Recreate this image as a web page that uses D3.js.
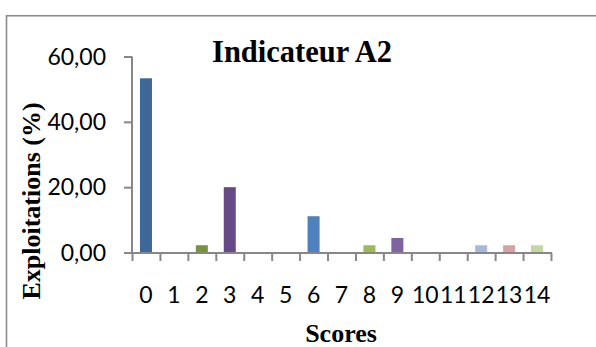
<!DOCTYPE html>
<html>
<head>
<meta charset="utf-8">
<script src="https://cdn.jsdelivr.net/npm/d3@7"></script>
<style>
  html, body { margin: 0; padding: 0; background: #fff; }
  svg { display: block; }
</style>
</head>
<body>
<svg id="chart" width="596" height="347"></svg>
<script>
// Scores and share of farms (%) for each score
const scores = ["0","1","2","3","4","5","6","7","8","9","10","11","12","13","14"];
const values = [53.33, 0, 2.22, 20.00, 0, 0, 11.11, 0, 2.22, 4.44, 0, 0, 2.22, 2.22, 2.22];
const yTicks = [0, 20, 40, 60];

const chartTitle = "Indicateur A2";
const xTitle = "Scores";
const yTitle = "Exploitations (%)";

// Point colours: dark, normal and light shades of the office palette
const palette = [
  "#3d6899", "#953735", "#77933c", "#664a86", "#31859c", "#e46c0a",
  "#4f81bd", "#c0504d", "#9bbb59", "#8064a2", "#4bacc6", "#f79646",
  "#a7b9da", "#d9a2a1", "#c4d79f"
];

const svg = d3.select("#chart");
const W = 596, H = 347;
const plotLeft = 132, plotRight = 551, plotTop = 56.5, plotBottom = 252.5;
const axisColor = "#878787";

svg.append("rect").attr("width", W).attr("height", H).attr("fill", "#fff");

// outer frame (runs off the right and bottom edges)
svg.append("rect")
  .attr("x", 6.5).attr("y", 15.75)
  .attr("width", W + 20).attr("height", H + 20)
  .attr("fill", "none")
  .attr("stroke", "#8c8c8c")
  .attr("stroke-width", 1.6);

const x = d3.scaleBand()
  .domain(scores)
  .range([plotLeft, plotRight])
  .paddingInner(0.57)
  .paddingOuter(0.285);

const xEdges = d3.scaleLinear().domain([0, scores.length]).range([plotLeft, plotRight]);

const y = d3.scaleLinear().domain([0, 60]).range([plotBottom, plotTop]);

// bars
svg.append("g")
  .selectAll("rect")
  .data(values)
  .join("rect")
  .attr("x", (d, i) => x(scores[i]))
  .attr("width", x.bandwidth())
  .attr("y", d => y(d))
  .attr("height", d => y(0) - y(d))
  .attr("fill", (d, i) => palette[i]);

const fmt = v => d3.format(".2f")(v).replace(".", ",");

// y axis
const yAxis = svg.append("g")
  .attr("transform", `translate(${plotLeft},0)`)
  .call(d3.axisLeft(y).tickValues(yTicks).tickSize(8).tickPadding(18).tickFormat(fmt));
yAxis.select(".domain").attr("stroke", axisColor).attr("stroke-width", 2)
  .attr("d", `M0,${plotTop}V${plotBottom + 1}`);
yAxis.selectAll(".tick line").attr("stroke", axisColor).attr("stroke-width", 2);
yAxis.selectAll(".tick text")
  .attr("font-family", "Lato, 'Open Sans', sans-serif")
  .attr("font-size", 23)
  .attr("fill", "#000")
  .attr("dy", "0.34em");

// x axis: tick marks on category edges
const xAxis = svg.append("g")
  .attr("transform", `translate(0,${plotBottom + 0.5})`)
  .call(d3.axisBottom(xEdges).tickValues(d3.range(scores.length + 1)).tickSize(8).tickFormat(""));
xAxis.select(".domain").attr("stroke", axisColor).attr("stroke-width", 2)
  .attr("d", `M${plotLeft - 1},0H${plotRight + 1}`);
xAxis.selectAll(".tick line").attr("stroke", axisColor).attr("stroke-width", 2);

// x labels centred on categories
svg.append("g")
  .attr("transform", `translate(0,${plotBottom + 0.5})`)
  .call(d3.axisBottom(x).tickSize(0).tickPadding(0))
  .call(g => g.select(".domain").remove())
  .selectAll(".tick text")
  .attr("font-family", "Lato, 'Open Sans', sans-serif")
  .attr("font-size", 23)
  .attr("fill", "#000")
  .attr("y", 50)
  .attr("dy", 0);

// titles
svg.append("text")
  .attr("x", 302).attr("y", 62)
  .attr("text-anchor", "middle")
  .attr("font-family", "'Liberation Serif', 'Times New Roman', serif")
  .attr("font-weight", "bold")
  .attr("font-size", 30.5)
  .text(chartTitle);

svg.append("text")
  .attr("x", 341).attr("y", 342)
  .attr("text-anchor", "middle")
  .attr("font-family", "'Liberation Serif', 'Times New Roman', serif")
  .attr("font-weight", "bold")
  .attr("font-size", 26)
  .text(xTitle);

svg.append("text")
  .attr("transform", "translate(40,201) rotate(-90)")
  .attr("text-anchor", "middle")
  .attr("font-family", "'Liberation Serif', 'Times New Roman', serif")
  .attr("font-weight", "bold")
  .attr("font-size", 26)
  .text(yTitle);
</script>
</body>
</html>
